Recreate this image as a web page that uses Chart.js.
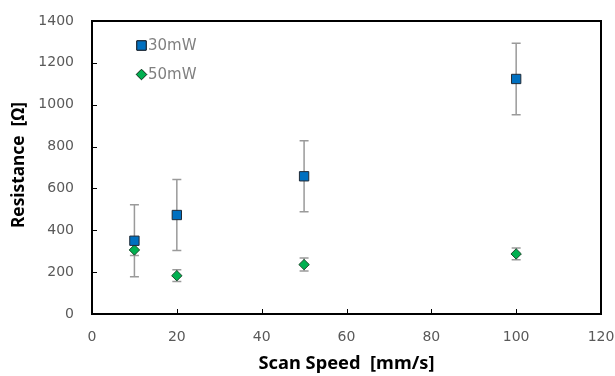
<!DOCTYPE html>
<html>
<head>
<meta charset="utf-8">
<script src="https://cdn.jsdelivr.net/npm/chart.js@4/dist/chart.umd.min.js"></script>
<style>
  html, body { margin: 0; padding: 0; background: #fff; }
  #wrap { width: 615px; height: 376px; position: relative; }
</style>
</head>
<body>
<div id="wrap"><canvas id="chartCanvas"></canvas></div>
<script>
// Resistance vs scan speed, two laser powers, with error bars
const speeds = [10, 20, 50, 100];
const res30 = [350, 473, 658, 1123];
const err30 = [172, 170, 170, 171];
const res50 = [306, 183, 236, 287];
const err50 = [27, 28, 31, 28];
const xTicks = [0, 20, 40, 60, 80, 100, 120];
const yTicks = [0, 200, 400, 600, 800, 1000, 1200, 1400];

const tickFont = { family: "'DejaVu Sans', sans-serif", size: 14 };
const tickColor = "#595959";
const titleFont = "'Noto Sans', 'Open Sans', sans-serif";

function points(ys) {
  return speeds.map((x, i) => ({ x: x, y: ys[i] }));
}

// draw bold text at a given size, squeezed horizontally to a given width
function fitText(ctx, text, x, y, width, size) {
  ctx.font = "bold " + size + "px " + titleFont;
  const w = ctx.measureText(text).width;
  ctx.save();
  ctx.translate(x, y);
  ctx.scale(width / w, 1);
  ctx.fillText(text, 0, 0);
  ctx.restore();
}

// error bars behind the markers
const errorBars = {
  id: "errorBars",
  beforeDatasetsDraw(chart) {
    const { ctx, scales: { x, y } } = chart;
    const errs = [err30, err50];
    ctx.save();
    ctx.strokeStyle = "#9a9a9a";
    ctx.lineWidth = 1.5;
    chart.data.datasets.forEach((ds, d) => {
      ds.data.forEach((p, i) => {
        const px = x.getPixelForValue(p.x);
        const top = y.getPixelForValue(p.y + errs[d][i]);
        const bot = y.getPixelForValue(p.y - errs[d][i]);
        ctx.beginPath();
        ctx.moveTo(px, top); ctx.lineTo(px, bot);
        ctx.moveTo(px - 4.5, top); ctx.lineTo(px + 4.5, top);
        ctx.moveTo(px - 4.5, bot); ctx.lineTo(px + 4.5, bot);
        ctx.stroke();
      });
    });
    ctx.restore();
  }
};

// frame, inward tick marks, axis titles, legend inside the plot
const frame = {
  id: "frame",
  afterDraw(chart) {
    const { ctx, chartArea: a, scales: { x, y } } = chart;
    ctx.save();
    ctx.strokeStyle = "#000";
    ctx.lineWidth = 1;
    ctx.beginPath();
    xTicks.slice(1, -1).forEach(v => {
      const px = Math.round(x.getPixelForValue(v)) + 0.5;
      ctx.moveTo(px, a.bottom); ctx.lineTo(px, a.bottom - 5);
    });
    yTicks.slice(1, -1).forEach(v => {
      const py = Math.round(y.getPixelForValue(v)) + 0.5;
      ctx.moveTo(a.left, py); ctx.lineTo(a.left + 5, py);
    });
    ctx.stroke();
    ctx.lineWidth = 2;
    ctx.strokeRect(a.left, a.top, a.right - a.left, a.bottom - a.top);

    ctx.fillStyle = "#000";
    ctx.textAlign = "center";
    ctx.textBaseline = "middle";
    fitText(ctx, "Scan Speed  [mm/s]", (a.left + a.right) / 2, 364, 176, 18);
    ctx.translate(19, 165);
    ctx.rotate(-Math.PI / 2);
    fitText(ctx, "Resistance  [\u03a9]", 0, 0, 126, 17);
    ctx.restore();

    ctx.save();
    ctx.font = "15px 'DejaVu Sans', sans-serif";
    ctx.textBaseline = "middle";
    ctx.textAlign = "left";
    chart.data.datasets.forEach((ds, d) => {
      const cy = 45.5 + d * 29;
      Chart.helpers.drawPoint(ctx, {
        pointStyle: ds.pointStyle, radius: ds.pointRadius, borderWidth: 1
      }, 141.5, cy);
      ctx.fillStyle = ds.backgroundColor;
      ctx.strokeStyle = ds.borderColor;
      ctx.lineWidth = 1;
      ctx.fill();
      ctx.stroke();
      ctx.fillStyle = "#808080";
      ctx.fillText(ds.label, 148, cy + 1);
    });
    ctx.restore();
  }
};

new Chart(document.getElementById("chartCanvas"), {
  type: "scatter",
  data: {
    datasets: [
      {
        label: "30mW", data: points(res30), pointStyle: "rect", pointRadius: 6.6,
        backgroundColor: "#0070C0", borderColor: "#1f2a36", borderWidth: 1
      },
      {
        label: "50mW", data: points(res50), pointStyle: "rectRot", pointRadius: 5.2,
        backgroundColor: "#00B050", borderColor: "#1d4a2c", borderWidth: 1
      }
    ]
  },
  options: {
    responsive: true,
    maintainAspectRatio: false,
    animation: false,
    layout: { padding: { left: 0, right: 14, top: 21, bottom: 0 } },
    plugins: { legend: { display: false }, tooltip: { enabled: false } },
    scales: {
      x: {
        type: "linear", min: 0, max: 120,
        afterBuildTicks: s => { s.ticks = xTicks.map(v => ({ value: v })); },
        afterFit: s => { s.height = 62; s.paddingLeft = 0; s.paddingRight = 0; },
        grid: { display: false, drawTicks: false },
        border: { display: false },
        ticks: { font: tickFont, color: tickColor, padding: 15, maxRotation: 0, callback: v => String(v) }
      },
      y: {
        type: "linear", min: 0, max: 1400,
        afterBuildTicks: s => { s.ticks = yTicks.map(v => ({ value: v })); },
        afterFit: s => { s.width = 92; s.paddingTop = 0; s.paddingBottom = 0; },
        grid: { display: false, drawTicks: false },
        border: { display: false },
        ticks: { font: tickFont, color: tickColor, padding: 18, callback: v => String(v) }
      }
    }
  },
  plugins: [errorBars, frame]
});
</script>
</body>
</html>
